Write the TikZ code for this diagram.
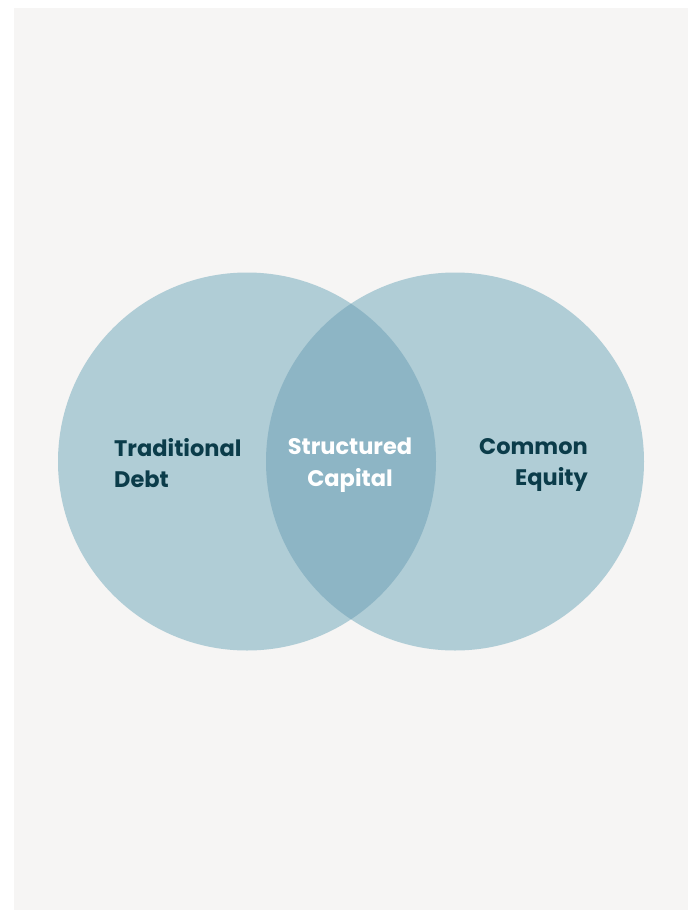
\documentclass[tikz,border=0pt]{standalone}
\usepackage{fontspec}
\setmainfont{Poppins}[Ligatures=NoCommon]
\definecolor{pagebg}{HTML}{F6F5F4}
\definecolor{setfill}{HTML}{B0CDD6}
\definecolor{overlapfill}{HTML}{8DB5C5}
\definecolor{labeldark}{HTML}{0B3C4A}

\begin{document}
\begin{tikzpicture}[x=1pt, y=-1pt,
    set/.style={circle, fill=setfill, minimum size=378pt, inner sep=0pt},
    lbl/.style={font=\bfseries\fontsize{22.5}{31.5}\selectfont, inner sep=0pt}]
    \useasboundingbox (0,0) rectangle (693,910);
    \fill [pagebg] (14,8) rectangle (688,910);

    % Sets {debt, equity}
    \node [set]   (debt)    at (247,461.5)  {};
    \node [set]   (equity)  at (455,461.5)  {};

    % Overlap
    \begin{scope}
        \clip (debt.center) circle (189pt);
        \fill [overlapfill] (equity.center) circle (189pt);
    \end{scope}

    % Labels
    \node [lbl, text=labeldark, anchor=north west, align=left]  (debtlbl)    at (114,438) {Traditional\\Debt};
    \node [lbl, text=white, anchor=north, align=center]         (capital)    at (350,438) {Structured\\Capital};
    \node [lbl, text=labeldark, anchor=north east, align=right] (equitylbl)  at (588,438) {Common\\Equity};
\end{tikzpicture}
\end{document}
